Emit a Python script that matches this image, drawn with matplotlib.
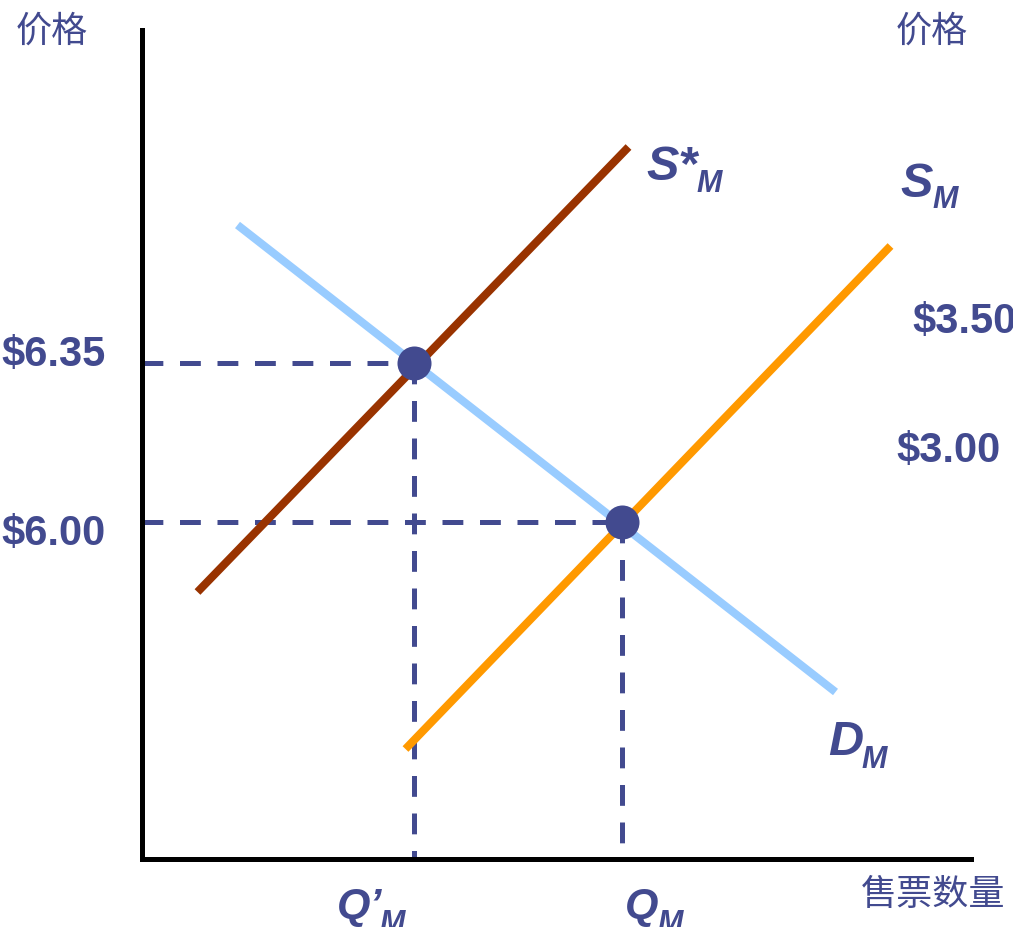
import matplotlib
matplotlib.use("Agg")
import matplotlib.pyplot as plt

# data (quantity / price in chart units, origin at the axis corner)
demand_q = [96, 694]
demand_p = [634, 167]
s_star_q = [56, 487]
s_star_p = [267, 712]
s_q = [264, 749]
s_p = [110, 613]
eq_q = [272, 480]
eq_p = [496, 337]
price_labels = ["$6.35", "$6.00"]
qty_labels = ["Q\u2019", "Q"]

navy = "#424A8F"
W, H = 1013, 928

plt.rcParams["lines.scale_dashes"] = False
fig = plt.figure(figsize=(W / 100, H / 100), dpi=100)
ax = fig.add_axes([141.5 / W, (H - 860) / H, (971 - 141.5) / W, (860 - 31) / H])
ax.set_xlim(0, 829.5)
ax.set_ylim(0, 829)
ax.set_xticks([])
ax.set_yticks([])
for side in ["top", "right"]:
    ax.spines[side].set_visible(False)
for side in ["left", "bottom"]:
    ax.spines[side].set_linewidth(3.6)
    ax.spines[side].set_color("black")

# dashed guide lines from the equilibria to the axes
for q, p in zip(eq_q, eq_p):
    ax.plot([0, q], [p, p], color=navy, lw=3.6, dashes=(15, 12), zorder=2)
    ax.plot([q, q], [p, 0], color=navy, lw=3.6, dashes=(15, 12), zorder=2)

ax.plot(demand_q, demand_p, color="#99CCFF", lw=5.8, solid_capstyle="butt", zorder=3)
ax.plot(s_star_q, s_star_p, color="#993300", lw=5.8, solid_capstyle="butt", zorder=3)
ax.plot(s_q, s_p, color="#FF9900", lw=5.8, solid_capstyle="butt", zorder=3)
ax.plot(eq_q, eq_p, "o", color=navy, ms=24.5, mec="none", zorder=4)


def px(x, y):
    return x / W, 1 - y / H


bold = dict(family="Liberation Sans", weight="bold", color=navy)
bi = dict(family="Liberation Sans", weight="bold", style="italic", color=navy)
cjk = dict(family=["Noto Sans CJK SC", "DejaVu Sans"], color=navy, fontsize=26)

fig.text(*px(16, 32), "价格", va="center", ha="left", **cjk)
fig.text(*px(896, 32), "价格", va="center", ha="left", **cjk)
fig.text(*px(861, 895), "售票数量", va="center", ha="left", **cjk)

fig.text(*px(1, 366), price_labels[0], va="baseline", fontsize=30, **bold)
fig.text(*px(1, 545), price_labels[1], va="baseline", fontsize=30, **bold)
fig.text(*px(912, 333), "$3.50", va="baseline", fontsize=30, **bold)
fig.text(*px(896, 462), "$3.00", va="baseline", fontsize=30, **bold)

fig.text(*px(646, 180), "S*", va="baseline", fontsize=35, **bi)
fig.text(*px(696, 192), "M", va="baseline", fontsize=22, **bi)
fig.text(*px(900, 197), "S", va="baseline", fontsize=35, **bi)
fig.text(*px(932, 208), "M", va="baseline", fontsize=22, **bi)
fig.text(*px(828, 755), "D", va="baseline", fontsize=35, **bi)
fig.text(*px(861, 768), "M", va="baseline", fontsize=22, **bi)

fig.text(*px(337, 918), qty_labels[0], va="baseline", fontsize=31, **bi)
fig.text(*px(379, 932), "M", va="baseline", fontsize=22, **bi)
fig.text(*px(625, 918), qty_labels[1], va="baseline", fontsize=31, **bi)
fig.text(*px(657, 932), "M", va="baseline", fontsize=22, **bi)

fig.savefig("out.png", dpi=100)
